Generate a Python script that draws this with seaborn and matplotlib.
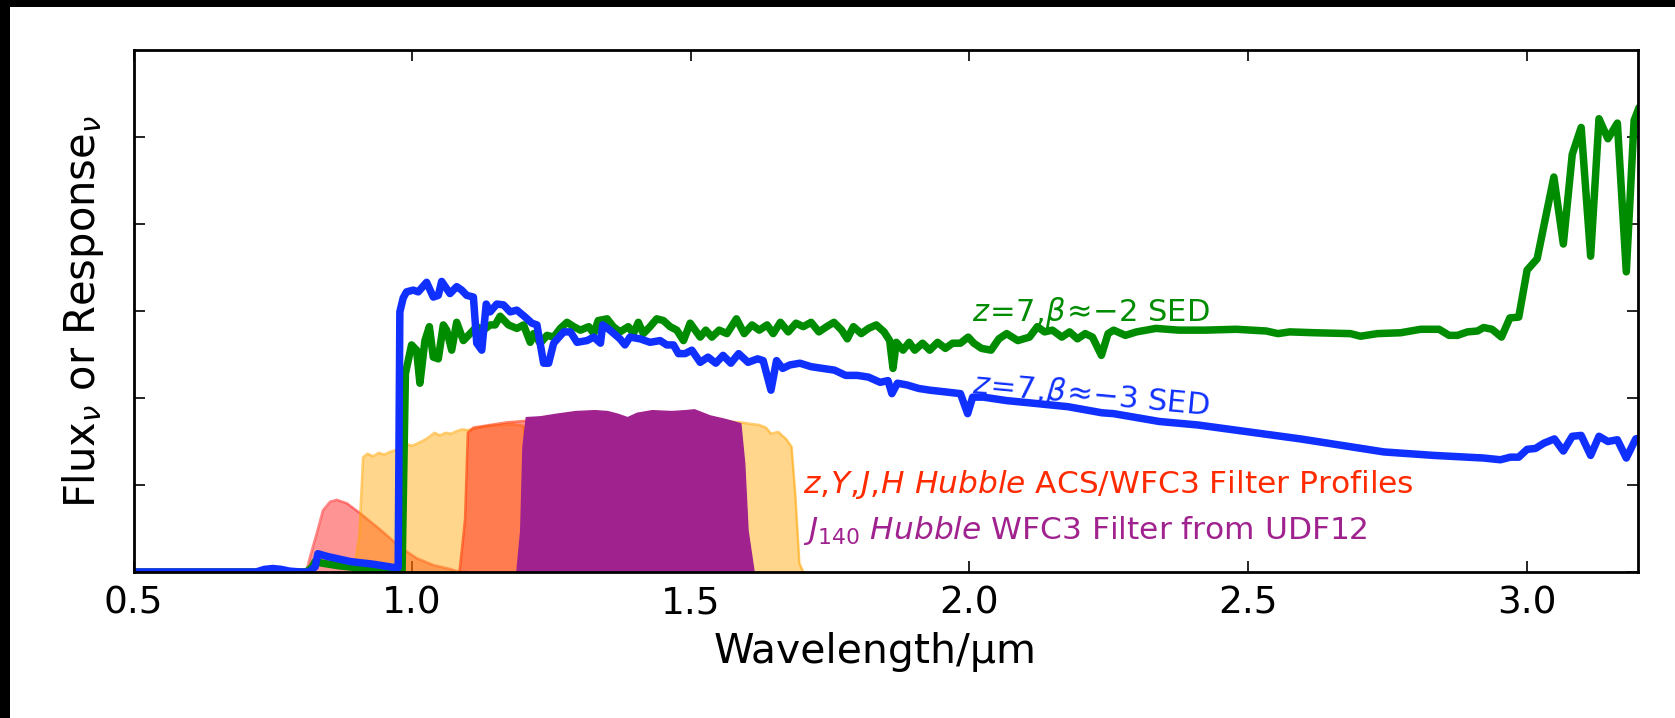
import numpy as np
import pandas as pd
import seaborn as sns
import matplotlib
matplotlib.use("Agg")
import matplotlib.pyplot as plt
from matplotlib.patches import Rectangle

# ---------------- data ----------------
x_ticks = [0.5, 1.0, 1.5, 2.0, 2.5, 3.0]
x_tick_labels = ["0.5", "1.0", "1.5", "2.0", "2.5", "3.0"]
y_ticks = [0, 1, 2, 3, 4, 5]

# z-band (ACS F850LP)
z_wave = [0.80, 0.811, 0.817, 0.829, 0.840, 0.853, 0.865, 0.883, 0.906, 0.948,
          0.978, 1.008, 1.038, 1.068, 1.086, 1.10]
z_resp = [0.0, 0.03, 0.18, 0.45, 0.71, 0.81, 0.83, 0.79, 0.68, 0.46,
          0.29, 0.16, 0.08, 0.035, 0.0, 0.0]

# Y-band (WFC3 F105W)
y_wave = [0.895, 0.905, 0.912, 0.92, 0.93, 0.94, 0.95, 0.96, 0.97, 0.98,
          0.99, 1.00, 1.01, 1.02, 1.03, 1.04, 1.05, 1.06, 1.07, 1.08,
          1.09, 1.10, 1.12, 1.14, 1.16, 1.18, 1.20, 1.21, 1.22, 1.23]
y_resp = [0.0, 0.4, 1.32, 1.36, 1.33, 1.37, 1.35, 1.38, 1.40, 1.41,
          1.47, 1.45, 1.48, 1.51, 1.55, 1.60, 1.57, 1.60, 1.59, 1.62,
          1.64, 1.63, 1.66, 1.68, 1.69, 1.70, 1.68, 1.2, 0.3, 0.0]

# J-band (WFC3 F125W)
j_wave = [1.085, 1.095, 1.10, 1.11, 1.13, 1.15, 1.17, 1.19, 1.25, 1.30,
          1.35, 1.39, 1.41, 1.42, 1.43]
j_resp = [0.0, 0.6, 1.6, 1.66, 1.68, 1.70, 1.72, 1.73, 1.76, 1.78,
          1.76, 1.74, 1.0, 0.2, 0.0]

# H-band (WFC3 F160W)
h_wave = [1.38, 1.395, 1.41, 1.45, 1.50, 1.55, 1.59, 1.61, 1.623, 1.635,
          1.644, 1.657, 1.671, 1.681, 1.688, 1.695, 1.702]
h_resp = [0.0, 1.0, 1.65, 1.72, 1.76, 1.74, 1.72, 1.70, 1.69, 1.66,
          1.59, 1.61, 1.53, 1.44, 0.86, 0.10, 0.0]

# J140 (WFC3 F140W, UDF12)
j140_wave = [1.187, 1.194, 1.198, 1.204, 1.23, 1.259, 1.293, 1.327, 1.35, 1.368,
             1.386, 1.403, 1.43, 1.465, 1.49, 1.506, 1.534, 1.561, 1.578, 1.589,
             1.596, 1.602, 1.613]
j140_resp = [0.0, 0.48, 1.44, 1.78, 1.79, 1.82, 1.85, 1.86, 1.85, 1.82,
             1.78, 1.83, 1.86, 1.85, 1.86, 1.87, 1.80, 1.76, 1.73, 1.71,
             1.25, 0.48, 0.0]

# SED beta ~ -2 (green)
green_wave = [0.50, 0.81, 0.82, 0.826, 0.84, 0.87, 0.90, 0.94, 0.975, 0.982,
              0.988, 0.999, 1.008, 1.014, 1.023, 1.031, 1.038, 1.047, 1.056, 1.062,
              1.071, 1.080, 1.092, 1.104, 1.116, 1.128, 1.140, 1.149, 1.158, 1.173,
              1.188, 1.200, 1.212, 1.218, 1.230, 1.242, 1.254, 1.266, 1.278, 1.290,
              1.302, 1.317, 1.326, 1.334, 1.350, 1.361, 1.373, 1.388, 1.397, 1.406,
              1.415, 1.427, 1.439, 1.451, 1.463, 1.475, 1.487, 1.499, 1.517, 1.527,
              1.538, 1.551, 1.565, 1.582, 1.596, 1.610, 1.623, 1.637, 1.648, 1.661,
              1.675, 1.689, 1.702, 1.716, 1.730, 1.744, 1.757, 1.771, 1.781, 1.792,
              1.806, 1.819, 1.833, 1.847, 1.857, 1.863, 1.869, 1.881, 1.892, 1.902,
              1.916, 1.929, 1.943, 1.957, 1.970, 1.984, 1.998, 2.008, 2.022, 2.039,
              2.053, 2.067, 2.087, 2.108, 2.122, 2.135, 2.149, 2.166, 2.180, 2.194,
              2.208, 2.221, 2.237, 2.249, 2.259, 2.280, 2.300, 2.335, 2.376, 2.424,
              2.479, 2.533, 2.554, 2.575, 2.620, 2.684, 2.702, 2.732, 2.774, 2.810,
              2.843, 2.861, 2.876, 2.894, 2.912, 2.923, 2.938, 2.955, 2.970, 2.986,
              3.001, 3.019, 3.049, 3.066, 3.082, 3.098, 3.115, 3.130, 3.146, 3.163,
              3.179, 3.193, 3.202]
green_flux = [0.0, 0.0, 0.05, 0.12, 0.10, 0.07, 0.05, 0.03, 0.02, 0.02,
              2.28, 2.61, 2.55, 2.17, 2.66, 2.82, 2.47, 2.45, 2.84, 2.78,
              2.55, 2.87, 2.66, 2.74, 2.82, 2.78, 2.84, 2.84, 2.94, 2.84,
              2.80, 2.84, 2.64, 2.74, 2.63, 2.72, 2.70, 2.80, 2.87, 2.82,
              2.78, 2.82, 2.74, 2.89, 2.91, 2.82, 2.76, 2.82, 2.74, 2.87,
              2.74, 2.82, 2.91, 2.89, 2.82, 2.78, 2.66, 2.86, 2.70, 2.78,
              2.70, 2.78, 2.74, 2.91, 2.74, 2.84, 2.78, 2.84, 2.74, 2.87,
              2.76, 2.86, 2.82, 2.87, 2.76, 2.82, 2.87, 2.78, 2.68, 2.82,
              2.74, 2.80, 2.84, 2.76, 2.66, 2.34, 2.64, 2.55, 2.64, 2.55,
              2.63, 2.55, 2.64, 2.57, 2.63, 2.63, 2.70, 2.63, 2.57, 2.55,
              2.68, 2.74, 2.66, 2.70, 2.82, 2.76, 2.78, 2.70, 2.76, 2.68,
              2.74, 2.70, 2.49, 2.74, 2.78, 2.72, 2.76, 2.80, 2.78, 2.78,
              2.79, 2.77, 2.74, 2.76, 2.75, 2.74, 2.71, 2.74, 2.75, 2.79,
              2.79, 2.72, 2.72, 2.76, 2.77, 2.81, 2.79, 2.70, 2.92, 2.93,
              3.47, 3.60, 4.54, 3.77, 4.80, 5.11, 3.63, 5.21, 4.98, 5.16,
              3.45, 5.19, 5.34]

# SED beta ~ -3 (blue)
blue_wave = [0.50, 0.72, 0.735, 0.75, 0.765, 0.78, 0.80, 0.815, 0.826, 0.831,
             0.847, 0.889, 0.930, 0.969, 0.975, 0.978, 0.984, 0.990, 1.002, 1.011,
             1.026, 1.038, 1.047, 1.053, 1.068, 1.080, 1.089, 1.098, 1.110, 1.116,
             1.125, 1.133, 1.140, 1.152, 1.164, 1.176, 1.188, 1.203, 1.215, 1.224,
             1.236, 1.245, 1.254, 1.272, 1.284, 1.296, 1.314, 1.326, 1.338, 1.342,
             1.355, 1.373, 1.382, 1.391, 1.409, 1.427, 1.445, 1.457, 1.469, 1.478,
             1.490, 1.502, 1.517, 1.531, 1.545, 1.558, 1.572, 1.586, 1.603, 1.620,
             1.630, 1.644, 1.654, 1.665, 1.678, 1.696, 1.716, 1.737, 1.758, 1.778,
             1.799, 1.819, 1.840, 1.854, 1.861, 1.871, 1.888, 1.909, 1.929, 1.957,
             1.984, 1.997, 2.006, 2.025, 2.067, 2.115, 2.177, 2.238, 2.259, 2.341,
             2.410, 2.479, 2.548, 2.594, 2.684, 2.744, 2.834, 2.923, 2.953, 2.971,
             2.986, 3.001, 3.016, 3.031, 3.050, 3.066, 3.082, 3.098, 3.115, 3.130,
             3.146, 3.163, 3.179, 3.196, 3.210]
blue_flux = [0.0, 0.0, 0.03, 0.04, 0.03, 0.01, 0.0, 0.0, 0.06, 0.21,
             0.18, 0.12, 0.09, 0.05, 0.05, 2.99, 3.15, 3.22, 3.24, 3.22,
             3.33, 3.16, 3.18, 3.34, 3.20, 3.28, 3.24, 3.18, 3.16, 2.63,
             2.55, 3.08, 2.99, 3.08, 3.07, 2.99, 3.01, 2.93, 2.86, 2.84,
             2.40, 2.40, 2.63, 2.76, 2.76, 2.64, 2.66, 2.70, 2.63, 2.84,
             2.78, 2.68, 2.61, 2.70, 2.68, 2.64, 2.66, 2.61, 2.61, 2.51,
             2.51, 2.55, 2.41, 2.47, 2.40, 2.49, 2.40, 2.51, 2.41, 2.45,
             2.43, 2.09, 2.43, 2.34, 2.38, 2.40, 2.36, 2.34, 2.32, 2.26,
             2.26, 2.24, 2.18, 2.20, 2.05, 2.17, 2.15, 2.11, 2.09, 2.07,
             2.05, 1.82, 2.01, 2.01, 1.97, 1.94, 1.90, 1.83, 1.82, 1.73,
             1.69, 1.63, 1.57, 1.53, 1.44, 1.38, 1.34, 1.31, 1.29, 1.32,
             1.32, 1.41, 1.42, 1.48, 1.53, 1.39, 1.56, 1.57, 1.34, 1.56,
             1.50, 1.52, 1.31, 1.53, 1.55]

green_label = r"$z\!=\!7,\!\beta\!\approx\!{-}2$ SED"
blue_label = r"$z\!=\!7,\!\beta\!\approx\!{-}3$ SED"
filters_label = r"$z,\!Y,\!J,\!H$ $\mathit{Hubble}$ ACS/WFC3 Filter Profiles"
j140_label = r"$J_{140}$ $\mathit{Hubble}$ WFC3 Filter from UDF12"

# ---------------- style ----------------
sns.set_style("ticks")
plt.rcParams["font.family"] = ["DejaVu Sans"]
plt.rcParams["mathtext.fontset"] = "dejavusans"
for key in ["text.color", "axes.labelcolor", "xtick.color", "ytick.color", "axes.edgecolor"]:
    plt.rcParams[key] = "black"

GREEN = "#008c00"
BLUE = "#1030ff"
PURPLE = "#a0228f"
RED_TXT = "#ff2a00"

fig = plt.figure(figsize=(16.75, 7.18), dpi=100)
fig.patch.set_facecolor("white")
ax = fig.add_axes([133.5 / 1675, (718 - 572) / 718, (1638 - 133.5) / 1675, (572 - 50) / 718])

# filter profiles
ax.fill_between(z_wave, 0, z_resp, facecolor="red", alpha=0.42, linewidth=0, zorder=1)
ax.plot(z_wave, z_resp, color="red", alpha=0.45, lw=1.8, zorder=1)
ax.fill_between(y_wave, 0, y_resp, facecolor="orange", alpha=0.45, linewidth=0, zorder=1)
ax.plot(y_wave, y_resp, color="orange", alpha=0.55, lw=1.8, zorder=1)
ax.fill_between(j_wave, 0, j_resp, facecolor="red", alpha=0.42, linewidth=0, zorder=1)
ax.plot(j_wave, j_resp, color="#ff3000", alpha=0.6, lw=1.8, zorder=1)
ax.fill_between(h_wave, 0, h_resp, facecolor="orange", alpha=0.45, linewidth=0, zorder=1)
ax.plot(h_wave, h_resp, color="orange", alpha=0.55, lw=1.8, zorder=1)
ax.fill_between(j140_wave, 0, j140_resp, facecolor=PURPLE, edgecolor=PURPLE,
                linewidth=1.0, zorder=2)

# SEDs
sed_green = pd.DataFrame({"wave": green_wave, "flux": green_flux})
sed_blue = pd.DataFrame({"wave": blue_wave, "flux": blue_flux})
sns.lineplot(data=sed_green, x="wave", y="flux", color=GREEN, linewidth=5.4,
             sort=False, estimator=None, ax=ax, zorder=3)
sns.lineplot(data=sed_blue, x="wave", y="flux", color=BLUE, linewidth=5.4,
             sort=False, estimator=None, ax=ax, zorder=4)

# annotations
ax.text(2.005, 2.89, green_label, color=GREEN, fontsize=22, ha="left", va="baseline")
ax.text(2.005, 2.06, blue_label, color=BLUE, fontsize=22, ha="left", va="baseline",
        rotation=-5.3, rotation_mode="anchor")
ax.text(1.702, 0.91, filters_label, color=RED_TXT, fontsize=22.5, ha="left", va="baseline")
ax.text(1.702, 0.38, j140_label, color=PURPLE, fontsize=22.5, ha="left", va="baseline")

# axes
ax.set_xlim(0.5, 3.2)
ax.set_ylim(0, 6)
ax.set_xticks(x_ticks)
ax.set_xticklabels(x_tick_labels)
ax.set_yticks(y_ticks)
ax.tick_params(axis="both", which="major", direction="in", length=8, width=1.2,
               top=True, right=True, labelleft=False, labelsize=27, pad=10,
               colors="black", labelcolor="black")
ax.minorticks_off()
for s in ax.spines.values():
    s.set_linewidth(2.0)
    s.set_color("black")
    s.set_zorder(6)
ax.set_xlabel("Wavelength/μm", fontsize=29.5, color="black")
ax.set_ylabel(r"Flux$_\nu$ or Response$_\nu$", fontsize=30, labelpad=20, color="black")
ax.xaxis.set_label_coords(0.493, -0.114)
ax.grid(False)

# black border bands along left and top edges
fig.patches.append(Rectangle((0, 0), 10 / 1675, 1, transform=fig.transFigure,
                             facecolor="black", edgecolor="none", zorder=10))
fig.patches.append(Rectangle((0, 1 - 7 / 718), 1, 7 / 718, transform=fig.transFigure,
                             facecolor="black", edgecolor="none", zorder=10))

fig.savefig("out.png", dpi=100, facecolor="white")
